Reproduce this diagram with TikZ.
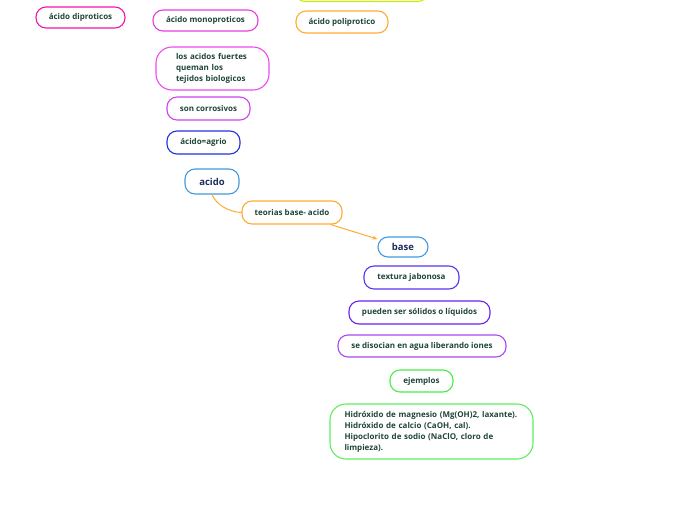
\documentclass[tikz,border=0pt]{standalone}
\usepackage{fontspec}
\setmainfont{Open Sans}
\usetikzlibrary{arrows.meta}
\definecolor{txt}{HTML}{1E4536}
\definecolor{navy}{HTML}{1B2D5A}
\definecolor{cpink}{HTML}{F514A8}
\definecolor{cmag}{HTML}{E83CE0}
\definecolor{corange}{HTML}{FFAA33}
\definecolor{clime}{HTML}{C8EE00}
\definecolor{cmag2}{HTML}{EE48EE}
\definecolor{cviol}{HTML}{CC44EE}
\definecolor{cblue}{HTML}{2233DD}
\definecolor{clblue}{HTML}{4499DD}
\definecolor{cind}{HTML}{5A33EE}
\definecolor{cpur}{HTML}{6A22EE}
\definecolor{clav}{HTML}{AA48EE}
\definecolor{cgreen}{HTML}{44EE44}
\definecolor{cgreen2}{HTML}{5CEE5C}
\tikzset{
  pill/.style={draw, line width=1.1pt, rounded corners=10pt, inner sep=0pt, align=center,
    font=\fontsize{8}{11}\selectfont\bfseries, text=txt},
  bigpill/.style={pill, rounded corners=16pt, align=left},
  mainpill/.style={pill, font=\fontsize{9.5}{11}\selectfont\bfseries, text=navy},
  conn/.style={draw=corange, line width=1pt}
}
\begin{document}
\begin{tikzpicture}[x=1pt,y=-1pt]
\useasboundingbox (0,0) rectangle (696,520);
\node[pill, draw=clime, minimum width=133pt, minimum height=22pt] (topbox) at (361.5,-9.5) {};
\node[pill, draw=cpink, minimum width=89pt, minimum height=21pt] (dipro) at (80.5,17.5) {ácido diproticos};
\node[pill, draw=cmag, minimum width=105pt, minimum height=21pt] (mono) at (205.5,20.5) {ácido monoproticos};
\node[pill, draw=corange, minimum width=92pt, minimum height=22pt] (poli) at (342,22) {ácido poliprotico};
\node[bigpill, draw=cmag2, minimum width=113pt, minimum height=43pt, text width=73pt] (fuertes) at (212.5,68.5) {los acidos fuertes\\queman los\\tejidos biologicos};
\node[pill, draw=cviol, minimum width=83pt, minimum height=23pt] (corro) at (208.5,108.5) {son corrosivos};
\node[pill, draw=cblue, minimum width=73pt, minimum height=23pt] (agrio) at (203.5,142.5) {ácido=agrio};
\node[mainpill, draw=clblue, minimum width=54pt, minimum height=25pt] (acido) at (212,181.5) {acido};
\node[pill, draw=corange, minimum width=100pt, minimum height=23pt] (teorias) at (292,212.5) {teorias base- acido};
\node[mainpill, draw=clblue, minimum width=50pt, minimum height=20pt] (base) at (403,247) {base};
\node[pill, draw=cind, minimum width=95pt, minimum height=23pt] (textura) at (411.5,277.5) {textura jabonosa};
\node[pill, draw=cpur, minimum width=141pt, minimum height=23pt] (pueden) at (419.5,312.5) {pueden ser sólidos o líquidos};
\node[pill, draw=clav, minimum width=168pt, minimum height=22pt] (disocian) at (422,346) {se disocian en agua liberando iones};
\node[pill, draw=cgreen, minimum width=63pt, minimum height=22pt] (ejemplos) at (421.5,381) {ejemplos};
\node[bigpill, draw=cgreen2, minimum width=203pt, minimum height=55pt, text width=174pt] (hidro) at (431.5,431.5) {Hidróxido de magnesio (Mg(OH)2, laxante).\\Hidróxido de calcio (CaOH, cal).\\Hipoclorito de sodio (NaClO, cloro de\\limpieza).};
\draw[conn] (acido.south) .. controls (216,204) and (228,212) .. (teorias.west);
\draw[conn, -{Stealth[length=5pt,width=4pt]}] (teorias) -- (base);
\end{tikzpicture}
\end{document}
